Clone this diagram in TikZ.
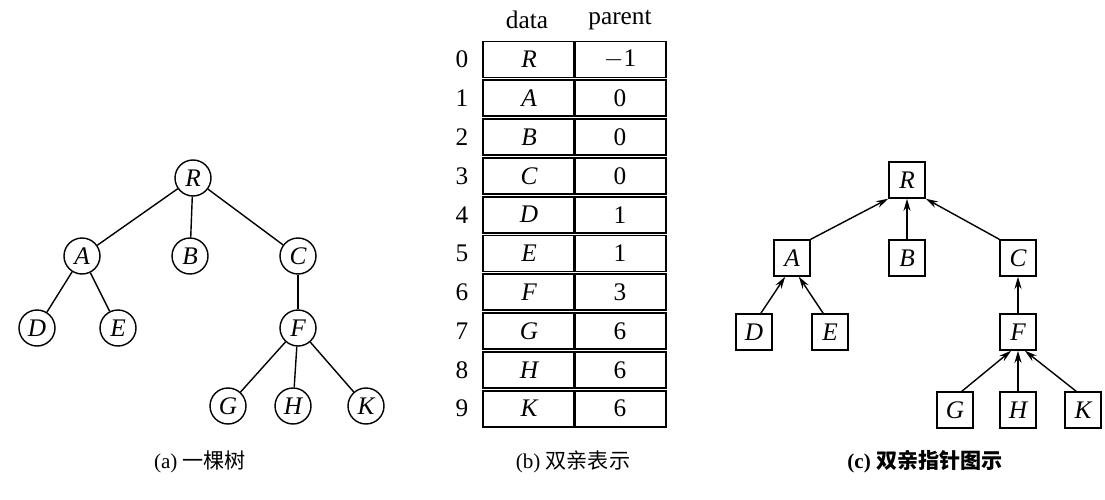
\documentclass[tikz,border=0pt]{standalone}
\usepackage{fontspec}
\setmainfont{Liberation Serif}
\newfontfamily\cjk{Noto Sans CJK SC}
\usetikzlibrary{arrows.meta}
\begin{document}
\begin{tikzpicture}[x=0.02cm,y=-0.02cm,
  cn/.style={circle,draw,line width=0.8pt,minimum size=0.72cm,inner sep=0pt,font=\Large\itshape},
  sn/.style={rectangle,draw,line width=0.8pt,minimum size=0.72cm,inner sep=0pt,font=\Large\itshape},
  ed/.style={line width=0.8pt},
  ar/.style={line width=0.8pt,-{Stealth[length=7pt,width=4pt]}},
  captxt/.style={font=\large},
  cell/.style={rectangle,draw,line width=1pt,minimum width=1.84cm,minimum height=0.72cm,inner sep=0pt,font=\Large}]
\useasboundingbox (0,0) rectangle (1105,500);
% (a)
\node[cn] (R) at (193,178) {R};
\node[cn] (A) at (82,256) {A};
\node[cn] (B) at (190,256) {B};
\node[cn] (C) at (298,256) {C};
\node[cn] (D) at (37,328) {D};
\node[cn] (E) at (118,328) {E};
\node[cn] (F) at (298,328) {F};
\node[cn] (G) at (228,406) {G};
\node[cn] (H) at (293,406) {H};
\node[cn] (K) at (366,406) {K};
\foreach \a/\b in {R/A,R/B,R/C,A/D,A/E,C/F,F/G,F/H,F/K} \draw[ed] (\a)--(\b);
\node[captxt] (ca) at (200,462) {(a) {\cjk 一棵树}};
% (b)
\node[font=\Large] (hd) at (527,20) {data};
\node[font=\Large] (hp) at (620,20) {parent};
\foreach \i/\d/\p in {0/R/$-$1,1/A/0,2/B/0,3/C/0,4/D/1,5/E/1,6/F/3,7/G/6,8/H/6,9/K/6}{
  \node[cell,font=\Large\itshape] (d\i) at (529,{59.5+\i*38.8}) {\d};
  \node[cell] (p\i) at (620,{59.5+\i*38.8}) {\p};
  \node[font=\Large] (n\i) at (462,{59.5+\i*38.8}) {\i};
}
\node[captxt] (cb) at (573,462) {(b) {\cjk 双亲表示}};
% (c)
\node[sn] (R2) at (907,180) {R};
\node[sn] (A2) at (792,258) {A};
\node[sn] (B2) at (907,258) {B};
\node[sn] (C2) at (1018,258) {C};
\node[sn] (D2) at (754,332) {D};
\node[sn] (E2) at (830,332) {E};
\node[sn] (F2) at (1018,332) {F};
\node[sn] (G2) at (955,410) {G};
\node[sn] (H2) at (1018,410) {H};
\node[sn] (K2) at (1083,410) {K};
\draw[ar] (A2.north east)--(R2.south west);
\draw[ar] (B2)--(R2);
\draw[ar] (C2.north west)--(R2.south east);
\draw[ar] (D2.70)--(A2.250);
\draw[ar] (E2.110)--(A2.290);
\draw[ar] (F2)--(C2);
\draw[ar] (G2.70)--(F2.250);
\draw[ar] (H2)--(F2);
\draw[ar] (K2.110)--(F2.290);
\node[font=\large\bfseries] (cc) at (925,462) {(c) {\cjk 双亲指针图示}};
\end{tikzpicture}
\end{document}
